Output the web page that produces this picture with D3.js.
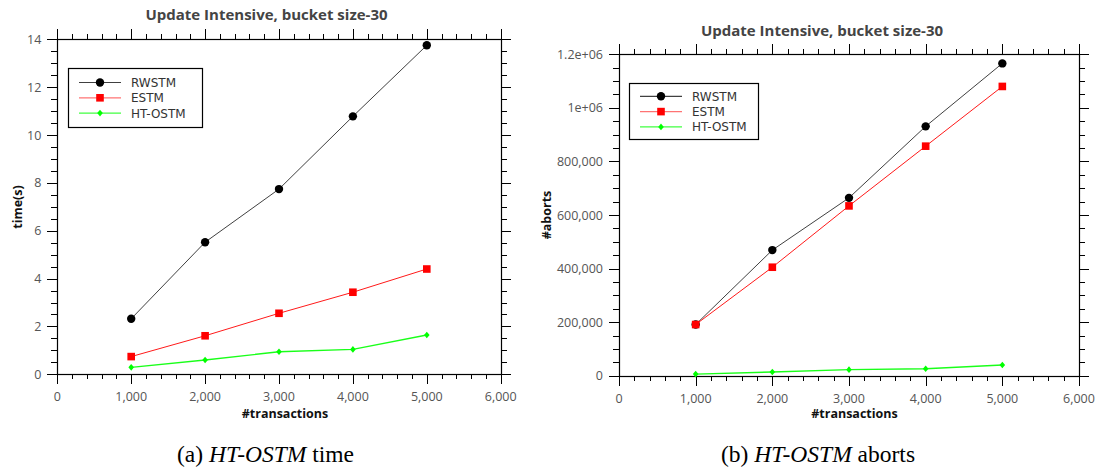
<!DOCTYPE html>
<html>
<head>
<meta charset="utf-8">
<script src="https://cdn.jsdelivr.net/npm/d3@7"></script>
<style>
  body { margin: 0; background: #fff; }
  svg { display: block; }
</style>
</head>
<body>
<div id="chart"></div>
<script>
// ---- data ----
var transactions = [1000, 2000, 3000, 4000, 5000];
var seriesNames = ['RWSTM', 'ESTM', 'HT-OSTM'];

var timeRWSTM = [2.32, 5.52, 7.74, 10.78, 13.75];
var timeESTM = [0.74, 1.61, 2.55, 3.43, 4.40];
var timeHTOSTM = [0.29, 0.60, 0.94, 1.04, 1.64];

var abortsRWSTM = [191000, 469000, 664000, 931000, 1166000];
var abortsESTM = [191000, 405000, 634000, 857000, 1080000];
var abortsHTOSTM = [6000, 14000, 22500, 26000, 40000];

var xTicks = [0, 1000, 2000, 3000, 4000, 5000, 6000];
var timeTicks = [0, 2, 4, 6, 8, 10, 12, 14];
var abortTicks = [0, 200000, 400000, 600000, 800000, 1000000, 1200000];
var abortTickLabels = ['0', '200,000', '400,000', '600,000', '800,000', '1e+06', '1.2e+06'];

var colors = { 'RWSTM': '#000000', 'ESTM': '#ff0000', 'HT-OSTM': '#00ff00' };
var shapes = { 'RWSTM': 'circle', 'ESTM': 'square', 'HT-OSTM': 'diamond' };

var svg = d3.select('#chart').append('svg')
    .attr('width', 1099)
    .attr('height', 473);

var comma = d3.format(',');

// draws one panel of the figure
function drawPanel(cfg) {
    var g = svg.append('g');
    var x = d3.scaleLinear().domain([0, 6000]).range([cfg.left, cfg.right]);
    var y = d3.scaleLinear().domain(cfg.yDomain).range([cfg.bottom, cfg.top]);

    // minor ticks
    var xMinor = d3.range(0, 6001, 200).filter(function (v) { return v % 1000 !== 0; });
    var yMinor = d3.range(cfg.yDomain[0], cfg.yDomain[1] + cfg.yMinorStep / 2, cfg.yMinorStep)
        .filter(function (v) { return cfg.yTicks.indexOf(v) < 0; });

    var tk = g.append('g').attr('stroke', '#000').attr('stroke-width', 1).attr('shape-rendering', 'crispEdges');
    function tickLines(vals, len, horiz) {
        vals.forEach(function (v) {
            if (horiz) {
                var px = Math.round(x(v)) + 0.5;
                tk.append('line').attr('x1', px).attr('x2', px).attr('y1', cfg.top).attr('y2', cfg.top - len);
                tk.append('line').attr('x1', px).attr('x2', px).attr('y1', cfg.bottom).attr('y2', cfg.bottom + len);
            } else {
                var py = Math.round(y(v)) + 0.5;
                tk.append('line').attr('y1', py).attr('y2', py).attr('x1', cfg.left).attr('x2', cfg.left - len);
                tk.append('line').attr('y1', py).attr('y2', py).attr('x1', cfg.right).attr('x2', cfg.right + len);
            }
        });
    }
    tickLines(xTicks, 10, true);
    tickLines(xMinor, 5, true);
    tickLines(cfg.yTicks, 10, false);
    tickLines(yMinor, 6, false);

    // frame
    g.append('rect')
        .attr('x', Math.round(cfg.left) + 0.5).attr('y', Math.round(cfg.top) + 0.5)
        .attr('width', Math.round(cfg.right) - Math.round(cfg.left))
        .attr('height', Math.round(cfg.bottom) - Math.round(cfg.top))
        .attr('fill', 'none').attr('stroke', '#000').attr('stroke-width', 1.2);

    // tick labels
    g.selectAll('.xl').data(xTicks).enter().append('text')
        .attr('x', function (d) { return x(d); })
        .attr('y', cfg.bottom + 27)
        .attr('text-anchor', 'middle')
        .style('font', '12.5px "Open Sans", sans-serif')
        .attr('fill', '#555')
        .text(function (d) { return comma(d); });

    g.selectAll('.yl').data(cfg.yTicks).enter().append('text')
        .attr('x', cfg.left - 16)
        .attr('y', function (d) { return y(d) + 4.5; })
        .attr('text-anchor', 'end')
        .style('font', '12.5px "Open Sans", sans-serif')
        .attr('fill', '#555')
        .text(function (d, i) { return cfg.yLabels[i]; });

    // titles
    g.append('text')
        .attr('x', cfg.titleX).attr('y', cfg.titleY)
        .attr('text-anchor', 'middle')
        .style('font', 'bold 15px "Open Sans", sans-serif')
        .attr('fill', '#444')
        .text('Update Intensive, bucket size-30');

    g.append('text')
        .attr('x', cfg.xTitleX).attr('y', 418)
        .attr('text-anchor', 'middle')
        .style('font', 'bold 12.5px "Open Sans", sans-serif')
        .attr('fill', '#111')
        .text('#transactions');

    g.append('text')
        .attr('transform', 'translate(' + cfg.yTitleX + ',' + cfg.yTitleY + ') rotate(-90)')
        .attr('text-anchor', 'middle')
        .style('font', 'bold 12.5px "Open Sans", sans-serif')
        .attr('fill', '#111')
        .text(cfg.yTitle);

    // series
    var line = d3.line()
        .x(function (d) { return x(d[0]); })
        .y(function (d) { return y(d[1]); });

    seriesNames.forEach(function (name, si) {
        var pts = transactions.map(function (t, i) { return [t, cfg.values[si][i]]; });
        g.append('path')
            .datum(pts)
            .attr('d', line)
            .attr('fill', 'none')
            .attr('stroke', colors[name])
            .attr('stroke-width', name === 'HT-OSTM' ? 1.4 : 1)
            .attr('stroke-opacity', name === 'RWSTM' ? 0.75 : 0.9);
        pts.forEach(function (p) {
            drawMarker(g, shapes[name], x(p[0]), y(p[1]), colors[name]);
        });
    });

    // legend
    var lg = g.append('g');
    lg.append('rect')
        .attr('x', cfg.legX + 0.5).attr('y', cfg.legY + 0.5)
        .attr('width', cfg.legW).attr('height', cfg.legH)
        .attr('fill', '#fff').attr('stroke', '#000').attr('stroke-width', 1.2);
    seriesNames.forEach(function (name, i) {
        var ry = cfg.legY + cfg.rowY0 + i * cfg.rowGap;
        lg.append('line')
            .attr('x1', cfg.legX + 11).attr('x2', cfg.legX + 53)
            .attr('y1', ry).attr('y2', ry)
            .attr('stroke', colors[name]).attr('stroke-width', 1.2)
            .attr('stroke-opacity', name === 'ESTM' ? 0.55 : 0.75);
        drawMarker(lg, shapes[name], cfg.legX + 32, ry, colors[name]);
        lg.append('text')
            .attr('x', cfg.legX + 63).attr('y', ry + 4.5)
            .style('font', '12px "DejaVu Sans", sans-serif')
            .attr('fill', '#333')
            .text(name);
    });

    // caption
    var cap = g.append('text')
        .attr('x', cfg.capX).attr('y', 462)
        .attr('text-anchor', 'middle')
        .style('font', '23.5px "Liberation Serif", "Times New Roman", serif')
        .attr('fill', '#000');
    cap.append('tspan').text(cfg.capPrefix + ' ');
    cap.append('tspan').style('font-style', 'italic').text('HT-OSTM');
    cap.append('tspan').text(' ' + cfg.capSuffix);
}

function drawMarker(g, shape, cx, cy, color) {
    if (shape === 'circle') {
        g.append('circle').attr('cx', cx).attr('cy', cy).attr('r', 4.2).attr('fill', color);
    } else if (shape === 'square') {
        g.append('rect').attr('x', cx - 3.8).attr('y', cy - 3.8)
            .attr('width', 7.6).attr('height', 7.6).attr('fill', color);
    } else {
        g.append('path')
            .attr('d', 'M' + cx + ',' + (cy - 3.3) + 'L' + (cx + 2.8) + ',' + cy +
                'L' + cx + ',' + (cy + 3.3) + 'L' + (cx - 2.8) + ',' + cy + 'Z')
            .attr('fill', color);
    }
}

drawPanel({
    left: 57.3, right: 500.7, top: 39.3, bottom: 374.3,
    yDomain: [0, 14], yTicks: timeTicks, yMinorStep: 0.5,
    yLabels: timeTicks.map(String),
    values: [timeRWSTM, timeESTM, timeHTOSTM],
    titleX: 266.5, titleY: 20,
    xTitleX: 285, yTitleX: 22, yTitleY: 207, yTitle: 'time(s)',
    legX: 68, legY: 68, legW: 134, legH: 59, rowY0: 14.5, rowGap: 15.3,
    capX: 265.5, capPrefix: '(a)', capSuffix: 'time'
});

drawPanel({
    left: 619, right: 1079, top: 54.3, bottom: 375.7,
    yDomain: [0, 1200000], yTicks: abortTicks, yMinorStep: 50000,
    yLabels: abortTickLabels,
    values: [abortsRWSTM, abortsESTM, abortsHTOSTM],
    titleX: 822, titleY: 36,
    xTitleX: 854.5, yTitleX: 551, yTitleY: 215, yTitle: '#aborts',
    legX: 629, legY: 83, legW: 129, legH: 56, rowY0: 13.3, rowGap: 15.3,
    capX: 818, capPrefix: '(b)', capSuffix: 'aborts'
});
</script>
</body>
</html>
